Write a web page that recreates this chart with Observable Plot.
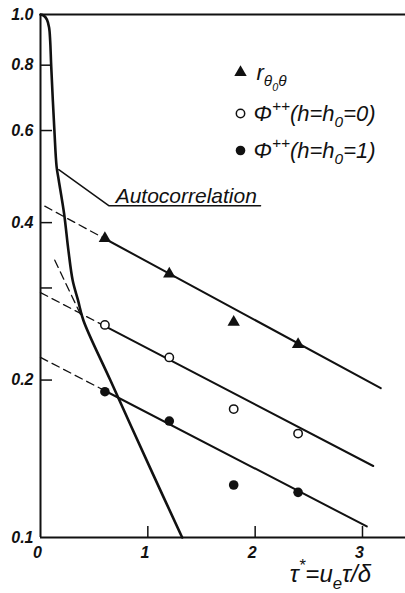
<!DOCTYPE html>
<html>
<head>
<meta charset="utf-8">
<script src="https://cdn.jsdelivr.net/npm/d3@7"></script>
<script src="https://cdn.jsdelivr.net/npm/@observablehq/plot@0.6"></script>
<style>
  html, body { margin: 0; padding: 0; background: #fff; }
  #chart svg { display: block; overflow: visible; }
</style>
</head>
<body>
<div id="chart"></div>
<script>
// Measured correlations versus time delay (semi-log)
const tau = [0.6, 1.2, 1.8, 2.4];
const rTheta = [0.373, 0.319, 0.258, 0.234];   // r_{θ0θ}
const phiH0 = [0.255, 0.221, 0.176, 0.158];    // Φ++ (h = h0 = 0)
const phiH1 = [0.190, 0.167, 0.126, 0.122];    // Φ++ (h = h0 = 1)

// Straight-line fits (log-linear): dashed back towards τ* = 0, solid from the first point
const fitStartTau = [0.04, 0, 0];
const fitStartR = [0.430, 0.294, 0.221];
const fitEndTau = [3.17, 3.10, 3.04];
const fitEndR = [0.193, 0.137, 0.105];

// Autocorrelation curve
const autoTau = [0, 0.03, 0.06, 0.08, 0.09, 0.10, 0.13, 0.15, 0.17, 0.22, 0.26, 0.30, 0.35, 0.40, 0.65, 1.02, 1.32];
const autoR = [1.0, 0.995, 0.978, 0.944, 0.892, 0.795, 0.597, 0.512, 0.482, 0.416, 0.354, 0.310, 0.284, 0.260, 0.200, 0.136, 0.100];
// dashed extension of its straight tail
const autoTailTau = [0.133, 0.40];
const autoTailR = [0.339, 0.260];

// Callout for the autocorrelation label
const calloutTau = [0.17, 0.636, 2.05];
const calloutR = [0.505, 0.431, 0.431];
const calloutText = "Autocorrelation";

// Axis ticks
const xTickLabels = [0, 1, 2, 3];
const xTickMarks = [1, 2, 3];
const yTickLabels = [0.1, 0.2, 0.4, 0.6, 0.8, 1.0];
const yTickMarks = [0.2, 0.3, 0.4, 0.6, 0.8];

// Legend
const legendLabels = ["r_{θ_{0}θ}", "Φ^{++}(h=h_{0}=0)", "Φ^{++}(h=h_{0}=1)"];
const xTitle = "τ^{*}=u_{e}τ/δ";

const FONT = '"Liberation Sans", Arial, sans-serif';
const INK = "#111";

const series = [rTheta, phiH0, phiH1];
const markerStyles = [
  {symbol: "triangle", r: 4.6, fill: INK, stroke: "none"},
  {symbol: "circle", r: 4.2, fill: "white", stroke: INK, strokeWidth: 1.5},
  {symbol: "circle", r: 4.8, fill: INK, stroke: "none"}
];

const logLine = (i, t) => {
  const a = Math.log(fitStartR[i]), b = Math.log(fitEndR[i]);
  return Math.exp(a + (b - a) * (t - fitStartTau[i]) / (fitEndTau[i] - fitStartTau[i]));
};

const W = 405, H = 593, mL = 40, mR = 0, mT = 14, mB = 56;
const frameW = W - mL - mR, frameH = H - mT - mB;

const marks = [];

// frame: left axis, bottom axis, top rule
marks.push(Plot.ruleX([0], {stroke: INK, strokeWidth: 2}));
marks.push(Plot.ruleY([0.1], {stroke: INK, strokeWidth: 2}));
marks.push(Plot.ruleY([1.0], {stroke: INK, strokeWidth: 1.8}));

// inward tick marks
marks.push(Plot.ruleX(xTickMarks, {x: d => d, insetTop: frameH - 11, stroke: INK, strokeWidth: 1.5}));
marks.push(Plot.ruleY(yTickMarks, {y: d => d, insetRight: frameW - 12, stroke: INK, strokeWidth: 1.5}));

// axis labels
marks.push(Plot.axisY({ticks: yTickLabels, tickFormat: d => d.toFixed(1), tickSize: 0, tickPadding: 7,
  fontSize: 16, fontStyle: "italic", fontWeight: "bold", fill: INK}));
marks.push(Plot.axisX({ticks: xTickLabels, tickFormat: d => String(d), tickSize: 0, tickPadding: 9, dx: -3,
  fontSize: 16, fontStyle: "italic", fontWeight: "bold", fill: INK}));
marks.push(Plot.text([xTitle], {x: () => 3.08, frameAnchor: "bottom", text: d => d, textAnchor: "end",
  lineAnchor: "bottom", dy: 44, fontSize: 24, fontStyle: "italic", fill: INK}));

// autocorrelation curve and its dashed tail extension
marks.push(Plot.line(autoTau.map((t, i) => [t, autoR[i]]), {x: d => d[0], y: d => d[1],
  curve: "catmull-rom", stroke: INK, strokeWidth: 2.6}));
marks.push(Plot.line(autoTailTau.map((t, i) => [t, autoTailR[i]]), {x: d => d[0], y: d => d[1],
  stroke: INK, strokeWidth: 1.3, strokeDasharray: "8,5"}));

// fitted lines
series.forEach((_, i) => {
  const t0 = tau[0];
  marks.push(Plot.line([[fitStartTau[i], fitStartR[i]], [t0, logLine(i, t0)]], {x: d => d[0], y: d => d[1],
    stroke: INK, strokeWidth: 1.3, strokeDasharray: "8,5"}));
  marks.push(Plot.line([[t0, logLine(i, t0)], [fitEndTau[i], fitEndR[i]]], {x: d => d[0], y: d => d[1],
    stroke: INK, strokeWidth: 2}));
});

// measured points
series.forEach((vals, i) => {
  marks.push(Plot.dot(tau.map((t, k) => [t, vals[k]]), {x: d => d[0], y: d => d[1], ...markerStyles[i]}));
});

// callout
marks.push(Plot.line(calloutTau.map((t, i) => [t, calloutR[i]]), {x: d => d[0], y: d => d[1],
  stroke: INK, strokeWidth: 1.5}));
marks.push(Plot.text([calloutText], {x: () => 0.70, y: () => calloutR[2], text: d => d, textAnchor: "start",
  lineAnchor: "bottom", dy: -3, fontSize: 21, fontStyle: "italic", fill: INK}));

// legend
const legendDy = [58, 99, 136];
legendLabels.forEach((lab, i) => {
  marks.push(Plot.dot([lab], {frameAnchor: "top-left", dx: 200, dy: legendDy[i], ...markerStyles[i]}));
  marks.push(Plot.text([lab], {frameAnchor: "top-left", dx: i === 0 ? 216 : 213, dy: legendDy[i], text: d => d,
    textAnchor: "start", lineAnchor: "middle", fontSize: 22, fontStyle: "italic", fill: INK}));
});

const chart = Plot.plot({
  width: W, height: H,
  marginLeft: mL, marginRight: mR, marginTop: mT, marginBottom: mB,
  style: {fontFamily: FONT, background: "white", color: INK},
  x: {domain: [0, frameW / 107.33], axis: null},
  y: {type: "log", domain: [0.1, 1.0], axis: null},
  marks
});

document.getElementById("chart").appendChild(chart);

// turn _{…} and ^{…} in labels into sub/superscript tspans
function richify(svg) {
  svg.querySelectorAll("text").forEach(el => {
    const s = el.textContent;
    if (!/[_^]\{/.test(s)) return;
    const base = parseFloat(getComputedStyle(el).fontSize) || 16;
    const runs = [];
    (function walk(str, shift, scale) {
      let buf = "";
      for (let i = 0; i < str.length; i++) {
        const c = str[i];
        if ((c === "_" || c === "^") && str[i + 1] === "{") {
          if (buf) { runs.push({t: buf, shift, scale}); buf = ""; }
          let depth = 1, j = i + 2;
          while (j < str.length && depth) { if (str[j] === "{") depth++; else if (str[j] === "}") depth--; j++; }
          walk(str.slice(i + 2, j - 1), shift + (c === "_" ? 0.3 : -0.42) * scale, scale * 0.7);
          i = j - 1;
        } else buf += c;
      }
      if (buf) runs.push({t: buf, shift, scale});
    })(s, 0, 1);
    el.textContent = "";
    let prev = 0;
    runs.forEach(r => {
      const ts = document.createElementNS("http://www.w3.org/2000/svg", "tspan");
      const d = (r.shift - prev) * base;
      if (Math.abs(d) > 1e-6) ts.setAttribute("dy", d.toFixed(2));
      if (r.scale !== 1) ts.setAttribute("font-size", (r.scale * base).toFixed(2));
      ts.textContent = r.t;
      el.appendChild(ts);
      prev = r.shift;
    });
  });
}
richify(chart);
</script>
</body>
</html>
